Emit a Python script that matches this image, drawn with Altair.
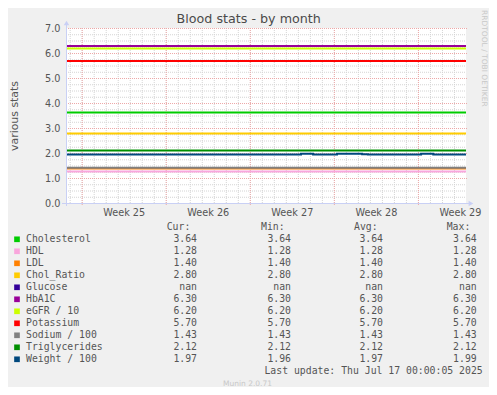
import altair as alt
import pandas as pd

# ---------------- data ----------------
names = ["Cholesterol", "HDL", "LDL", "Chol_Ratio", "Glucose", "HbA1C",
         "eGFR / 10", "Potassium", "Sodium / 100", "Triglycerides", "Weight / 100"]
colors = ["#00CC00", "#F9A6DC", "#FF8000", "#FFCC00", "#330099", "#990099",
          "#CCFF00", "#FF0000", "#808080", "#008F00", "#00487D"]
cur_vals = [3.64, 1.28, 1.40, 2.80, None, 6.30, 6.20, 5.70, 1.43, 2.12, 1.97]
min_vals = [3.64, 1.28, 1.40, 2.80, None, 6.30, 6.20, 5.70, 1.43, 2.12, 1.96]
avg_vals = [3.64, 1.28, 1.40, 2.80, None, 6.30, 6.20, 5.70, 1.43, 2.12, 1.97]
max_vals = [3.64, 1.28, 1.40, 2.80, None, 6.30, 6.20, 5.70, 1.43, 2.12, 1.99]

weight_times = ["2025-06-14T16:40:00Z", "2025-07-04T06:20:00Z", "2025-07-05T06:30:00Z",
                "2025-07-07T06:20:00Z", "2025-07-09T08:30:00Z", "2025-07-09T20:00:00Z",
                "2025-07-14T06:20:00Z", "2025-07-15T06:40:00Z", "2025-07-18T00:05:00Z"]
weight_values = [1.96, 1.99, 1.96, 1.99, 1.97, 1.96, 1.99, 1.96, 1.96]

range_start = "2025-06-14T16:40:00Z"
range_end = "2025-07-18T00:05:00Z"
week_starts = ["2025-06-16T00:00:00Z", "2025-06-23T00:00:00Z", "2025-06-30T00:00:00Z",
               "2025-07-07T00:00:00Z", "2025-07-14T00:00:00Z"]
week_label_days = [19, 26, 3, 10, 17]
week_label_months = [6, 6, 7, 7, 7]
y_ticks = [0, 1, 2, 3, 4, 5, 6, 7]
y_minor = [v / 4 for v in range(0, 29) if v % 4 != 0]
day_lines = [d.strftime("%Y-%m-%dT00:00:00Z") for d in pd.date_range("2025-06-15", "2025-07-17", freq="D")]

title_text = "Blood stats - by month"
y_title = "various stats"
col_titles = ["Cur:", "Min:", "Avg:", "Max:"]
last_update = "Last update: Thu Jul 17 00:00:05 2025"
footer = "Munin 2.0.71"
side_text = "RRDTOOL / TOBI OETIKER"

# ---------------- styles ----------------
W, H = 400, 175
TXT = "#555555"
SANS = "DejaVu Sans"
MONO = "DejaVu Sans Mono"
AXIS_C = "#C9D0F5"

xscale = alt.Scale(type="utc",
                   domain=[alt.DateTime(year=2025, month=6, date=14, hours=16, minutes=40, utc=True),
                           alt.DateTime(year=2025, month=7, date=18, hours=0, minutes=5, utc=True)])
yscale = alt.Scale(domain=[0, 7])

xaxis = alt.Axis(values=[alt.DateTime(year=2025, month=m, date=d, hours=12, utc=True)
                         for m, d in zip(week_label_months, week_label_days)],
                 labelExpr="'Week ' + utcFormat(datum.value, '%V')",
                 title="", domain=False, ticks=False, grid=False,
                 labelFont=SANS, labelFontSize=9.7, labelColor=TXT, labelPadding=4,
                 labelFlush=False, labelOverlap=False)
yaxis = alt.Axis(values=y_ticks, format=".1f", title=y_title, domain=False, ticks=False,
                 grid=False, labelFont=SANS, labelFontSize=9.7, labelColor=TXT,
                 labelPadding=6, titleFont=SANS, titleFontSize=10.9, titleFontWeight="normal",
                 titleColor=TXT, titleX=-52, titleY=87.5, titleAngle=270,
                 titleBaseline="middle", titleAlign="center")

X = lambda: alt.X("t:T", scale=xscale, axis=xaxis)
Y = lambda f="v": alt.Y(f"{f}:Q", scale=yscale, axis=yaxis)

plot_layers = []

# minor grid
plot_layers.append(
    alt.Chart(pd.DataFrame({"v": y_minor})).mark_rule(
        color="#D4D4D4", strokeDash=[1, 1], strokeWidth=1, yOffset=0.5
    ).encode(y=Y(), x=alt.value(0), x2=alt.value(W))
)
plot_layers.append(
    alt.Chart(pd.DataFrame({"t": day_lines})).mark_rule(
        color="#D4D4D4", strokeDash=[1, 1], strokeWidth=1, xOffset=0.5
    ).encode(x=X(), y=alt.value(0), y2=alt.value(H))
)
# major grid
plot_layers.append(
    alt.Chart(pd.DataFrame({"v": y_ticks})).mark_rule(
        color="#EDA8A8", strokeDash=[1, 1], strokeWidth=1, yOffset=0.5
    ).encode(y=Y(), x=alt.value(0), x2=alt.value(W + 2))
)
plot_layers.append(
    alt.Chart(pd.DataFrame({"t": week_starts})).mark_rule(
        color="#EDA8A8", strokeDash=[1, 1], strokeWidth=1, xOffset=0.5
    ).encode(x=X(), y=alt.value(0), y2=alt.value(H + 3))
)

# series lines, in draw order
for name, col, v in zip(names, colors, cur_vals):
    if name.startswith("Weight"):
        df = pd.DataFrame({"t": weight_times, "v": weight_values})
        mk = alt.Chart(df).mark_line(color=col, strokeWidth=2, interpolate="step-after",
                                     clip=True, yOffset=0.5)
    elif v is None:
        continue
    else:
        df = pd.DataFrame({"t": [range_start, range_end], "v": [v, v]})
        mk = alt.Chart(df).mark_line(color=col, strokeWidth=2, clip=True, yOffset=0.5)
    plot_layers.append(mk.encode(x=X(), y=Y()))

plot = alt.layer(*plot_layers)

# ---------------- decorations / legend ----------------
one = pd.DataFrame({"a": [0]})
deco = []
# axis lines + arrows
deco.append(alt.Chart(one).mark_rule(color=AXIS_C, strokeWidth=1).encode(
    x=alt.value(0.5), y=alt.value(-3), y2=alt.value(H + 3)))
deco.append(alt.Chart(one).mark_rule(color=AXIS_C, strokeWidth=1).encode(
    y=alt.value(H + 0.5), x=alt.value(-4), x2=alt.value(W + 3)))
deco.append(alt.Chart(one).mark_point(shape="triangle-up", filled=True, color=AXIS_C,
                                      size=30, opacity=1).encode(
    x=alt.value(0.5), y=alt.value(-5)))
deco.append(alt.Chart(one).mark_point(shape="triangle-right", filled=True, color=AXIS_C,
                                      size=30, opacity=1).encode(
    x=alt.value(W + 5), y=alt.value(H + 0.5)))

# title and side texts
deco.append(alt.Chart(pd.DataFrame({"s": [title_text]})).mark_text(
    font=SANS, fontSize=12.7, color="#4A4A4A", align="center", baseline="middle").encode(
    text="s:N", x=alt.value(182.7), y=alt.value(-9)))
deco.append(alt.Chart(pd.DataFrame({"s": [side_text]})).mark_text(
    font=SANS, fontSize=7.5, color="#C8C8C8", align="left", baseline="middle", angle=90).encode(
    text="s:N", x=alt.value(418), y=alt.value(-18)))
deco.append(alt.Chart(pd.DataFrame({"s": [footer]})).mark_text(
    font=SANS, fontSize=7.5, color="#C8C8C8", align="center", baseline="middle").encode(
    text="s:N", x=alt.value(181.5), y=alt.value(356.3)))

fmt = lambda v: "nan" if v is None else f"{v:.2f}"
leg = pd.DataFrame({
    "row": list(range(len(names))),
    "name": names,
    "color": colors,
    "c0": [fmt(v) for v in cur_vals],
    "c1": [fmt(v) for v in min_vals],
    "c2": [fmt(v) for v in avg_vals],
    "c3": [fmt(v) for v in max_vals],
})
rowY = alt.Y("row:Q", scale=alt.Scale(domain=[-1, 11], range=[199.3, 343.3]), axis=None)

deco.append(alt.Chart(leg).mark_square(size=32, filled=True, opacity=1).encode(
    x=alt.value(-49), y=rowY, color=alt.Color("color:N", scale=None)))
deco.append(alt.Chart(leg).mark_text(font=MONO, fontSize=9.8, color=TXT, align="left",
                                     baseline="middle").encode(
    x=alt.value(-40), y=rowY, text="name:N"))

header_left = [100.7, 195, 288, 380.7]
value_right = [131, 225, 317, 410.7]
for i, (ht, hx, vx) in enumerate(zip(col_titles, header_left, value_right)):
    deco.append(alt.Chart(pd.DataFrame({"row": [-1], "s": [ht]})).mark_text(
        font=MONO, fontSize=9.8, color=TXT, align="left", baseline="middle").encode(
        x=alt.value(hx), y=rowY, text="s:N"))
    deco.append(alt.Chart(leg).mark_text(
        font=MONO, fontSize=9.8, color=TXT, align="right", baseline="middle").encode(
        x=alt.value(vx), y=rowY, text=f"c{i}:N"))

deco.append(alt.Chart(pd.DataFrame({"row": [11], "s": [last_update]})).mark_text(
    font=MONO, fontSize=9.8, color=TXT, align="right", baseline="middle").encode(
    x=alt.value(416.7), y=rowY, text="s:N"))

legend = alt.layer(*deco)

chart = alt.layer(plot, legend).resolve_scale(y="independent").properties(
    width=W, height=H,
    autosize=alt.AutoSizeParams(type="none"),
    padding={"left": 58, "top": 20, "right": 23, "bottom": 184},
    background="#F0F0F0",
).configure_view(fill="white", strokeWidth=0)

chart.save("out.html", embed_options={"renderer": "svg", "actions": False})
